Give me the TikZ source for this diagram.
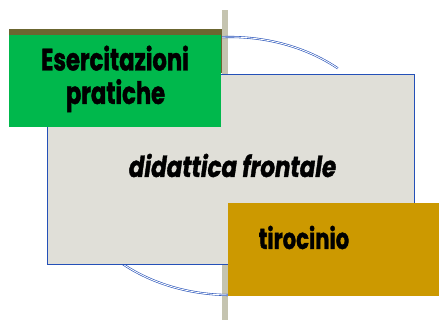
\documentclass[tikz,border=0pt]{standalone}
\usepackage{fontspec}
\newfontfamily\cfg[FakeStretch=0.73, FakeBold=1.3]{Poppins}
\newfontfamily\cfm[FakeStretch=0.79, FakeBold=1.2]{Poppins}
\newfontfamily\cft[FakeStretch=0.73, FakeBold=1.2]{Poppins}
\definecolor{mainfill}{HTML}{E0DFD8}
\definecolor{edgeblue}{HTML}{2450B8}
\definecolor{barcol}{HTML}{C5C4B0}
\definecolor{olive}{HTML}{6B6630}
\definecolor{greenbox}{HTML}{00B84C}
\definecolor{goldbox}{HTML}{CC9900}
\tikzset{
  box/.style={rectangle, inner sep=0pt, outer sep=0pt},
  ring/.style={draw=edgeblue, line width=0.6pt, double=white, double distance=0.9pt},
  lbl/.style={text=black, anchor=base, inner sep=0pt}
}
\begin{document}
\begin{tikzpicture}[x=1pt,y=1pt]
\useasboundingbox (0,0) rectangle (439,320);
% vertical bar
\fill[barcol] (222,310) rectangle (228,0);
% arcs
\draw[ring] (230,154) ++(92.8:165 and 129) arc[start angle=92.8, end angle=49.2, x radius=165, y radius=129];
\draw[ring] (230,154) ++(229.6:165 and 129) arc[start angle=229.6, end angle=269.3, x radius=165, y radius=129];
% main box
\node[box, fill=mainfill, draw=edgeblue, line width=0.6pt, minimum width=367pt, minimum height=190pt] (main) at (230.5,151) {};
\node[lbl, font=\cfm\bfseries\itshape\fontsize{29}{33}\selectfont] (mainlbl) at (232.5,143) {didattica frontale};
% olive strip
\fill[olive] (9,291) rectangle (222,247);
% green box
\node[box, fill=greenbox, minimum width=212pt, minimum height=92pt] (green) at (115,239) {};
\node[lbl, font=\cfg\bfseries\fontsize{31}{33}\selectfont] (greenlbla) at (115,249.5) {Esercitazioni};
\node[lbl, font=\cfg\bfseries\fontsize{31}{33}\selectfont] (greenlblb) at (115.5,216) {pratiche};
% gold box
\node[box, fill=goldbox, minimum width=211pt, minimum height=93pt, anchor=north west] (gold) at (228,117) {};
\node[lbl, font=\cft\bfseries\fontsize{29}{33}\selectfont] (goldlbl) at (304,71) {tirocinio};
\end{tikzpicture}
\end{document}
